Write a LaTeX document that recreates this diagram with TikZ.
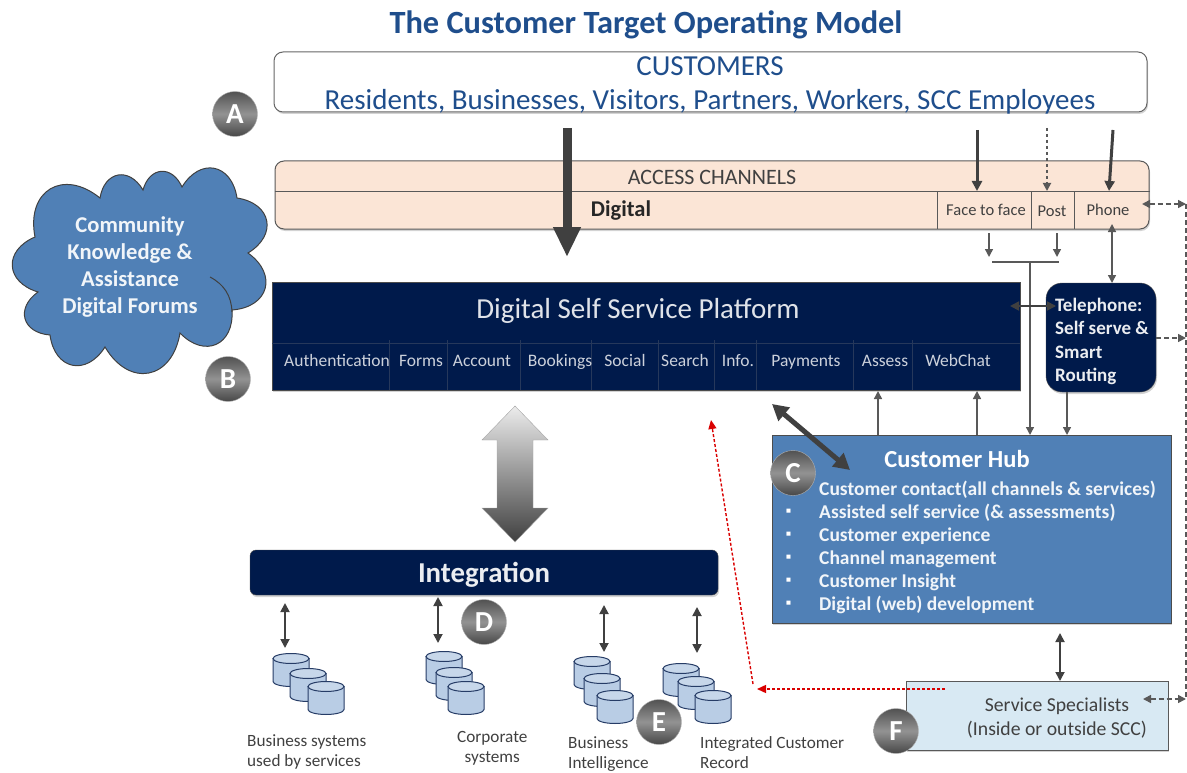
\documentclass[tikz,border=0pt]{standalone}
\usepackage{xcolor}
\usepackage{fontspec}
\setmainfont{Carlito}
\usetikzlibrary{shapes.geometric, arrows.meta, positioning, shadows, calc}

\definecolor{navy}{HTML}{001A4B}
\definecolor{hubblue}{HTML}{5080B6}
\definecolor{titleblue}{HTML}{1F4E8C}
\definecolor{peach}{HTML}{FBE5D6}
\definecolor{palesky}{HTML}{D8E9F3}
\definecolor{dbblue}{HTML}{B9CDE5}
\definecolor{wire}{HTML}{595959}
\definecolor{ink}{HTML}{404040}

\newcommand{\fs}[2]{\fontsize{#1}{#2}\selectfont}

\tikzset{
    softshadow/.style={drop shadow={opacity=0.35, shadow xshift=1pt, shadow yshift=-2pt}},
    badge/.style={circle, minimum size=45pt, inner sep=0pt, draw=gray!60, top color=black!68, bottom color=black!72, middle color=gray!85, text=white, font=\fs{29}{29}\bfseries},
    navybox/.style={draw=gray!60!black, fill=navy, text=white, softshadow},
    cell/.style={text=navy!20!white, anchor=base, font=\fs{17.5}{18}},
    chan/.style={text=ink, anchor=base, font=\fs{16.5}{17}},
    divider/.style={draw=gray!30!navy, line width=0.6pt},
    conn/.style={draw=wire, line width=1.4pt, -{Triangle[width=8pt,length=8pt]}},
    connboth/.style={draw=ink, line width=1.8pt, {Triangle[width=9pt,length=9pt]}-{Triangle[width=9pt,length=9pt]}},
    outside/.style={draw=wire, line width=1.6pt, dash pattern=on 5pt off 3pt},
    reddash/.style={draw=red!85!black, line width=1.4pt, densely dashed, -{Triangle[width=8pt,length=9pt]}},
    dbcyl/.pic={
        \draw[draw=navy!85, line width=1pt, fill=dbblue] (-18,-11.5) -- (-18,11.5) arc[start angle=180, end angle=0, x radius=18, y radius=5] -- (18,-11.5) -- cycle;
        \draw[draw=navy!85, line width=1pt, fill=dbblue!80] (0,-11.5) ellipse[x radius=18, y radius=5];
    },
    dblabel/.style={align=left, anchor=north west, inner sep=0pt, text=ink, font=\fs{17.2}{20}},
    puff/.style={bend left=70, looseness=1.6}
}

\begin{document}
\begin{tikzpicture}[x=1pt, y=-1pt]
    \useasboundingbox (0,0) rectangle (1187,773);

    % Title
    \node[text=titleblue, font=\fs{32.4}{33}\bfseries] (title) at (646,25) {The Customer Target Operating Model};

    % Customers
    \node[draw=gray!80!black, line width=1pt, fill=white, rounded corners=9pt, minimum width=873pt, minimum height=60pt, softshadow] (customers) at (710.5,82) {};
    \node[text=titleblue, font=\fs{29}{30}] (custhead) at (710,66) {CUSTOMERS};
    \node[text=titleblue, font=\fs{29}{30}] (custlist) at (710,102) {Residents, Businesses, Visitors, Partners, Workers, SCC Employees};

    % Access channels
    \node[draw=gray!70!black, line width=1pt, fill=peach, rounded corners=9pt, minimum width=874pt, minimum height=68pt, softshadow] (channels) at (712,195) {};
    \draw[draw=gray!70!black, line width=1pt] (channels.west |- 0,192) -- (channels.east |- 0,192);
    \node[text=ink, font=\fs{22}{22}] (chanhead) at (712,177) {ACCESS CHANNELS};
    \node[text=black!85, font=\fs{22.5}{23}\bfseries] (digital) at (621,211) {Digital};
    \node[chan] (face) at (986,215) {Face to face};
    \node[chan] (post) at (1052,216) {Post};
    \node[chan] (phone) at (1108,215) {Phone};
    \draw[draw=gray!70!black, line width=1pt] (937,192) -- (937,229);
    \draw[draw=gray!70!black, line width=1pt] (1031,192) -- (1031,229);
    \draw[draw=gray!70!black, line width=1pt] (1074,192) -- (1074,229);

    % Platform
    \node[navybox, minimum width=748pt, minimum height=108pt] (platform) at (646,336) {};
    \node[text=navy!12!white, font=\fs{29}{30}] (platformhead) at (638,311) {Digital Self Service Platform};
    \draw[divider] (272,343) -- (1020,343);
    \foreach \xpos in {389,447,520,591,658,714,756,853,912} {
        \draw[divider] (\xpos,340) -- (\xpos,390);
    }
    \node[cell] (auth) at (337,366) {Authentication};
    \node[cell] (forms) at (421,366) {Forms};
    \node[cell] (account) at (482,366) {Account};
    \node[cell] (bookings) at (560,366) {Bookings};
    \node[cell] (social) at (625,366) {Social};
    \node[cell] (search) at (685,366) {Search};
    \node[cell] (info) at (738,366) {Info.};
    \node[cell] (payments) at (806,366) {Payments};
    \node[cell] (assess) at (885,366) {Assess};
    \node[cell] (webchat) at (958,366) {WebChat};

    % Telephone
    \node[navybox, rounded corners=16pt, minimum width=110pt, minimum height=109pt] (telephone) at (1101,337.5) {};
    \node[text=navy!8!white, align=left, anchor=north west, inner sep=0pt, font=\fs{19}{23.3}\bfseries] (teltext) at (1055,298) {Telephone:\\Self serve \&\\Smart\\Routing};

    % Customer hub
    \node[draw=gray!60!black, line width=1pt, fill=hubblue, minimum width=399pt, minimum height=188pt, softshadow] (hub) at (971.5,529) {};
    \node[text=white, font=\fs{24.5}{25}\bfseries] (hubhead) at (957,459) {Customer Hub};
    \node[text=white!92!hubblue, align=left, anchor=north west, inner sep=0pt, font=\fs{19.5}{23}\bfseries] (hubtext) at (819,481) {Customer contact(all channels \& services)\\Assisted self service (\& assessments)\\Customer experience\\Channel management\\Customer Insight\\Digital (web) development};
    \node[text=white, align=left, anchor=north west, inner sep=0pt, font=\fs{14}{23}\bfseries] (hubbullets) at (786,509) {▪\\▪\\▪\\▪\\▪};

    % Service specialists
    \node[draw=gray!70!black, line width=1pt, fill=palesky, minimum width=262pt, minimum height=69pt, softshadow] (specialists) at (1037,715.5) {};
    \node[text=ink, align=center, font=\fs{19.7}{24}] (spectext) at (1057,718) {Service Specialists\\(Inside or outside SCC)};

    % Integration
    \node[navybox, rounded corners=6pt, minimum width=468pt, minimum height=45pt] (integration) at (484,572.5) {};
    \node[text=navy!8!white, font=\fs{28.8}{29}\bfseries] (integrationhead) at (484,575) {Integration};

    % Cloud
    \draw[draw=black!75, line width=1pt, fill=hubblue] (35,237) to[puff] (100,198) to[puff] (143,190) to[puff] (182,187) to[puff] (237,198) to[puff] (248,253) to[puff] (232,310) to[puff] (180,333) to[puff] (105,347) to[puff] (50,335) to[puff] (38,292) to[puff] (35,237) -- cycle;
    \draw[draw=black!75, line width=1pt] (210,277) to[bend left=30] (232,312);
    \node[text=white!92!hubblue, align=center, font=\fs{22.6}{27}\bfseries] (cloudtext) at (130,267) {Community\\Knowledge \&\\Assistance\\Digital Forums};

    % Databases
    \pic (busa) at (291,670) {dbcyl};
    \pic (busb) at (308,685) {dbcyl};
    \pic (busc) at (326,698) {dbcyl};
    \pic (corpa) at (444,668) {dbcyl};
    \pic (corpb) at (454,684) {dbcyl};
    \pic (corpc) at (466,698) {dbcyl};
    \pic (intela) at (592,673) {dbcyl};
    \pic (intelb) at (602,690) {dbcyl};
    \pic (intelc) at (615,707) {dbcyl};
    \pic (recorda) at (681,680) {dbcyl};
    \pic (recordb) at (696,693) {dbcyl};
    \pic (recordc) at (713,707) {dbcyl};

    \node[dblabel] (buslabel) at (247,734) {Business systems\\used by services};
    \node[dblabel, align=center] (corplabel) at (457,731) {Corporate\\systems};
    \node[dblabel] (intellabel) at (568,736) {Business\\Intelligence};
    \node[dblabel] (recordlabel) at (700,736) {Integrated Customer\\Record};

    % Free ends of connectors
    \coordinate (custdown) at (567,128);
    \coordinate (digitaltip) at (567,257);
    \coordinate (facetop) at (977,130);
    \coordinate (facetip) at (977,191);
    \coordinate (posttop) at (1047,128);
    \coordinate (posttip) at (1047,191);
    \coordinate (phonetop) at (1113,130);
    \coordinate (phonetip) at (1109,191);
    \coordinate (facelow) at (989,233);
    \coordinate (facemid) at (989,257);
    \coordinate (postlow) at (1057,233);
    \coordinate (postmid) at (1057,257);
    \coordinate (joinleft) at (992,262);
    \coordinate (joinright) at (1059,262);
    \coordinate (joinmid) at (1030,262);
    \coordinate (joinhub) at (1030,435);
    \coordinate (phonelow) at (1112,224);
    \coordinate (telup) at (1112,283);
    \coordinate (platright) at (1010,306);
    \coordinate (telleft) at (1056,306);
    \coordinate (assesshub) at (878,435);
    \coordinate (assessplat) at (878,391);
    \coordinate (webhub) at (977,435);
    \coordinate (webplat) at (977,391);
    \coordinate (teldown) at (1067,392);
    \coordinate (telhub) at (1067,435);
    \coordinate (railtop) at (1186,204);
    \coordinate (railbottom) at (1186,699);
    \coordinate (railphone) at (1142,204);
    \coordinate (railtelfrom) at (1156,338);
    \coordinate (railtel) at (1186,338);
    \coordinate (railspec) at (1143,699);
    \coordinate (platarrow) at (772,404);
    \coordinate (hubarrow) at (850,470);
    \coordinate (hubdown) at (1060,633);
    \coordinate (specup) at (1060,681);
    \coordinate (redstart) at (945,689);
    \coordinate (redcorner) at (757,689);
    \coordinate (redfoot) at (753,684);
    \coordinate (redtip) at (711,420);

    % Connectors
    \draw[draw=ink, line width=9pt, -{Triangle[width=26pt,length=30pt]}] (custdown) -- (digitaltip);
    \draw[conn, draw=ink, line width=3pt, -{Triangle[width=10pt,length=10pt]}] (facetop) -- (facetip);
    \draw[conn, draw=ink, line width=3pt, -{Triangle[width=10pt,length=10pt]}] (phonetop) -- (phonetip);
    \draw[conn, dashed, line width=1.8pt] (posttop) -- (posttip);
    \draw[conn] (facelow) -- (facemid);
    \draw[conn] (postlow) -- (postmid);
    \draw[draw=wire, line width=1.4pt] (joinleft) -- (joinright);
    \draw[conn] (joinmid) -- (joinhub);
    \draw[conn, {Triangle[width=8pt,length=8pt]}-{Triangle[width=8pt,length=8pt]}] (phonelow) -- (telup);
    \draw[connboth] (platright) -- (telleft);
    \draw[conn] (assesshub) -- (assessplat);
    \draw[conn] (webhub) -- (webplat);
    \draw[conn] (teldown) -- (telhub);
    \draw[outside] (railtop) -- (railbottom);
    \draw[outside, {Triangle[width=8pt,length=8pt]}-{Triangle[width=8pt,length=8pt]}] (railphone) -- (railtop);
    \draw[outside, -{Triangle[width=8pt,length=8pt]}] (railtelfrom) -- (railtel);
    \draw[outside, {Triangle[width=8pt,length=8pt]}-{Triangle[width=8pt,length=8pt]}] (railspec) -- (railbottom);
    \draw[draw=ink, line width=5pt, {Triangle[width=17pt,length=16pt]}-{Triangle[width=17pt,length=16pt]}] (platarrow) -- (hubarrow);
    \draw[connboth] (hubdown) -- (specup);
    \draw[reddash] (redstart) -- (redcorner);
    \draw[reddash] (redfoot) -- (redtip);

    % Platform to integration
    \path[draw=gray!70, top color=gray!15, bottom color=black!75] (515,406) -- (548,440) -- (533,440) -- (533,508) -- (548,508) -- (515,542) -- (482,508) -- (497,508) -- (497,440) -- (482,440) -- cycle;

    \coordinate (busup) at (285,603);
    \coordinate (busdb) at (285,648);
    \coordinate (corpup) at (438,597);
    \coordinate (corpdb) at (438,643);
    \coordinate (intelup) at (604,605);
    \coordinate (inteldb) at (604,652);
    \coordinate (recordup) at (697,607);
    \coordinate (recorddb) at (697,653);
    \draw[connboth] (busup) -- (busdb);
    \draw[connboth] (corpup) -- (corpdb);
    \draw[connboth] (intelup) -- (inteldb);
    \draw[connboth] (recordup) -- (recorddb);

    % Letters
    \node[badge] (a) at (235,114) {A};
    \node[badge] (b) at (228,379) {B};
    \node[badge] (c) at (793,473) {C};
    \node[badge] (d) at (484,622) {D};
    \node[badge] (e) at (659,722) {E};
    \node[badge] (f) at (896,731) {F};
\end{tikzpicture}
\end{document}
